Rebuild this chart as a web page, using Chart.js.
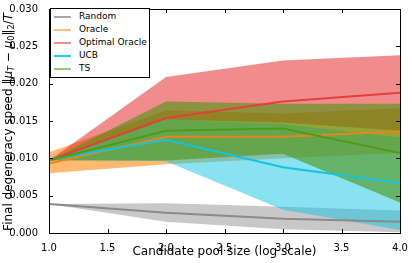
<!DOCTYPE html>
<html lang="en">
<head>
    <meta charset="UTF-8">
    <title>Final degeneracy speed vs candidate pool size</title>
    <script src="https://cdn.jsdelivr.net/npm/chart.js@4.4.0/dist/chart.umd.min.js"></script>
    <style>
        body {
            margin: 0;
            background: #ffffff;
        }
        #wrap {
            position: relative;
            width: 412px;
            height: 263px;
            font-family: 'DejaVu Sans', sans-serif;
            color: #000;
        }
        #chart {
            position: absolute;
            left: 0;
            top: 0;
        }
        #legend {
            position: absolute;
            left: 50px;
            top: 8px;
            width: 100px;
            height: 70px;
            box-sizing: border-box;
            border: 1px solid #000;
            background: #fff;
            font-size: 9px;
        }
        .row {
            position: absolute;
            left: 3px;
            height: 12px;
            line-height: 12px;
            white-space: nowrap;
        }
        .row span.swatch {
            display: inline-block;
            width: 17px;
            height: 2px;
            vertical-align: middle;
            margin-right: 8px;
        }
        #ylabel {
            position: absolute;
            left: -122px;
            top: 114px;
            width: 260px;
            height: 16px;
            line-height: 16px;
            text-align: center;
            font-size: 12px;
            white-space: nowrap;
            transform: rotate(-90deg);
        }
        #ylabel sub {
            font-size: 8px;
            vertical-align: -2px;
        }
    </style>
</head>
<body>
<div id="wrap">
    <canvas id="chart" width="412" height="263"></canvas>
    <div id="ylabel">Final degeneracy speed ‖<i>μ</i><sub><i>T</i></sub> − <i>μ</i><sub>0</sub>‖<sub>2</sub>/<i>T</i></div>
    <div id="legend"></div>
</div>

<script>
    // x values (candidate pool size, log scale)
    const poolSize = [1, 2, 3, 4];

    const randomMean = [0.0039, 0.0027, 0.0019, 0.0015];
    const randomLow  = [0.0039, 0.0015, 0.0005, 0.0001];
    const randomHigh = [0.0039, 0.0040, 0.0035, 0.0030];

    const oracleMean = [0.0093, 0.0129, 0.0129, 0.0136];
    const oracleLow  = [0.0080, 0.0092, 0.0100, 0.0107];
    const oracleHigh = [0.0108, 0.0164, 0.0160, 0.0167];

    const optimalMean = [0.0097, 0.0154, 0.0176, 0.0188];
    const optimalLow  = [0.0097, 0.0152, 0.0148, 0.0137];
    const optimalHigh = [0.0097, 0.0209, 0.0231, 0.0238];

    const ucbMean = [0.0098, 0.0125, 0.0088, 0.0067];
    const ucbLow  = [0.0098, 0.0096, 0.0031, 0.0004];
    const ucbHigh = [0.0098, 0.0152, 0.0146, 0.0128];

    const tsMean = [0.0097, 0.0137, 0.0140, 0.0107];
    const tsLow  = [0.0097, 0.0097, 0.0106, 0.0041];
    const tsHigh = [0.0097, 0.0176, 0.0173, 0.0173];

    const xTicks = [1.0, 1.5, 2.0, 2.5, 3.0, 3.5, 4.0];
    const yTicks = [0.000, 0.005, 0.010, 0.015, 0.020, 0.025, 0.030];

    const series = [
        { label: 'Random',         line: '#8a8a8a', fill: 'rgba(145,145,145,0.5)', legend: '#a8a8a8', mean: randomMean,  low: randomLow,  high: randomHigh },
        { label: 'Oracle',         line: '#e8841e', fill: 'rgba(255,127,0,0.55)',  legend: '#ffbf80', mean: oracleMean,  low: oracleLow,  high: oracleHigh },
        { label: 'Optimal Oracle', line: '#e3403a', fill: 'rgba(228,26,28,0.5)',   legend: '#f28c8d', mean: optimalMean, low: optimalLow, high: optimalHigh },
        { label: 'UCB',            line: '#17c3dc', fill: 'rgba(17,197,225,0.5)',  legend: '#1ecbe4', mean: ucbMean,     low: ucbLow,     high: ucbHigh },
        { label: 'TS',             line: '#4f9a1a', fill: 'rgba(75,150,15,0.6)',   legend: '#90cc78', mean: tsMean,      low: tsLow,      high: tsHigh }
    ];

    function pts(vals) {
        return poolSize.map((x, i) => ({ x: x, y: vals[i] }));
    }

    // each series: low edge, high edge filled down to low, mean line
    const datasets = [];
    series.forEach((s, k) => {
        const order = series.length - k;
        const lowIndex = datasets.length;
        datasets.push({ data: pts(s.low), borderWidth: 0, borderColor: 'rgba(0,0,0,0)', pointRadius: 0, fill: false, order: order });
        datasets.push({ data: pts(s.high), borderWidth: 0, borderColor: 'rgba(0,0,0,0)', pointRadius: 0, backgroundColor: s.fill, fill: lowIndex, order: order });
        datasets.push({ label: s.label, data: pts(s.mean), borderColor: s.line, borderWidth: 2, pointRadius: 0, fill: false, order: order });
    });

    // legend box
    const legend = document.getElementById('legend');
    series.forEach((s, k) => {
        const row = document.createElement('div');
        row.className = 'row';
        row.style.top = (1 + k * 13) + 'px';
        row.innerHTML = '<span class="swatch" style="background:' + s.legend + '"></span>' + s.label;
        legend.appendChild(row);
    });

    // frame + inward ticks on all four sides
    const framePlugin = {
        id: 'frame',
        afterDraw(chart) {
            const { ctx, chartArea: a, scales } = chart;
            ctx.save();
            ctx.strokeStyle = '#000';
            ctx.lineWidth = 1;
            ctx.beginPath();
            xTicks.forEach(v => {
                const px = Math.round(scales.x.getPixelForValue(v)) + 0.5;
                ctx.moveTo(px, a.bottom); ctx.lineTo(px, a.bottom - 4);
                ctx.moveTo(px, a.top); ctx.lineTo(px, a.top + 4);
            });
            yTicks.forEach(v => {
                const py = Math.round(scales.y.getPixelForValue(v)) + 0.5;
                ctx.moveTo(a.left, py); ctx.lineTo(a.left + 4, py);
                ctx.moveTo(a.right, py); ctx.lineTo(a.right - 4, py);
            });
            ctx.stroke();
            ctx.strokeRect(Math.round(a.left) + 0.5, Math.round(a.top) + 0.5,
                Math.round(a.right - a.left), Math.round(a.bottom - a.top));
            ctx.restore();
        }
    };

    Chart.defaults.font.family = "'DejaVu Sans', sans-serif";
    Chart.defaults.font.size = 10;
    Chart.defaults.color = '#000';

    new Chart(document.getElementById('chart'), {
        type: 'line',
        data: { datasets: datasets },
        options: {
            responsive: false,
            animation: false,
            layout: { padding: { left: 0, top: 8, right: 12, bottom: 0 } },
            elements: { line: { tension: 0 } },
            plugins: {
                legend: { display: false },
                tooltip: { enabled: false },
                filler: { drawTime: 'beforeDatasetsDraw' }
            },
            scales: {
                x: {
                    type: 'linear',
                    min: 1,
                    max: 4,
                    afterBuildTicks: scale => { scale.ticks = xTicks.map(v => ({ value: v })); },
                    afterFit: scale => { scale.height = 30; },
                    grid: { display: false },
                    border: { display: false },
                    ticks: { padding: 1, maxRotation: 0, callback: v => v.toFixed(1) },
                    title: { display: true, text: 'Candidate pool size (log scale)', font: { size: 12 }, padding: { top: 0, bottom: 4 } }
                },
                y: {
                    min: 0,
                    max: 0.03,
                    afterBuildTicks: scale => { scale.ticks = yTicks.map(v => ({ value: v })); },
                    afterFit: scale => { scale.width = 49; },
                    grid: { display: false },
                    border: { display: false },
                    ticks: { padding: 3, callback: v => v.toFixed(3) }
                }
            }
        },
        plugins: [framePlugin]
    });
</script>
</body>
</html>
